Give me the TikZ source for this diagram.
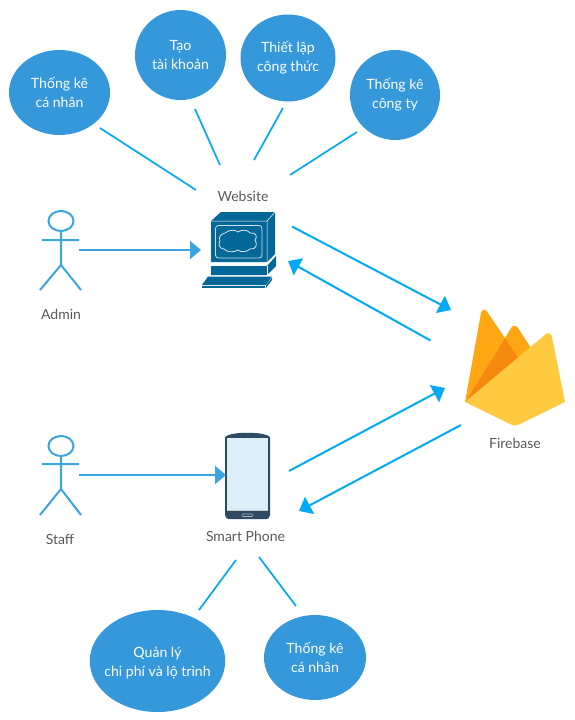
\documentclass[tikz,border=0pt]{standalone}
\usepackage{fontspec}
\setmainfont{Lato}
\usetikzlibrary{arrows.meta,shapes.geometric}
\definecolor{bub}{HTML}{3498DB}
\definecolor{act}{HTML}{3AA5DE}
\definecolor{con}{HTML}{03A9F4}
\definecolor{lab}{HTML}{595959}
\definecolor{cis}{HTML}{036897}
\definecolor{ph}{HTML}{2F4A63}
\definecolor{scr}{HTML}{DCEFF9}
\definecolor{fa}{HTML}{FFA712}
\definecolor{fb}{HTML}{F58A0E}
\definecolor{fc}{HTML}{FFCA3F}
\tikzset{
  x=1pt,y=-1pt,
  bubble/.style={ellipse,fill=bub,inner sep=0pt,align=center,text=white,font=\fontsize{14.1}{19}\selectfont},
  lbl/.style={text=lab,font=\fontsize{14}{16}\selectfont,inner sep=0pt},
  thinline/.style={draw=con,line width=1.7pt},
  flow/.style={draw=con,line width=2pt,-{Triangle[length=12pt,width=19pt]}},
  acflow/.style={draw=act,line width=2.2pt,-{Triangle[length=11pt,width=18pt]}},
  actor/.style={draw=act,line width=2pt,fill=none},
}
\begin{document}
\begin{tikzpicture}
\useasboundingbox (0,0) rectangle (575,720);
% bubbles
\node[bubble,minimum width=101pt,minimum height=85pt] (b1) at (59.5,92.5) {Thống kê\\cá nhân};
\node[bubble,minimum width=91pt,minimum height=90pt] (b2) at (180.5,55) {Tạo\\tài khoản};
\node[bubble,minimum width=95pt,minimum height=87pt] (b3) at (288,58) {Thiết lập\\công thức};
\node[bubble,minimum width=90pt,minimum height=90pt] (b4) at (395,95) {Thống kê\\công ty};
\node[bubble,inner xsep=-20pt,minimum width=135.5pt,minimum height=102pt] (b5) at (157.5,661) {\rule{0pt}{14pt}Quản lý\\chi phí và lộ trình};
\node[bubble,minimum width=102pt,minimum height=85pt] (b6) at (315,657.5) {Thống kê\\cá nhân};
% labels
\node[lbl] (lweb) at (243,196) {Website};
\node[lbl] (ladmin) at (61,314) {Admin};
\node[lbl] (lstaff) at (60,539) {Staff};
\node[lbl] (lphone) at (245.5,536) {Smart Phone};
\node[lbl] (lfire) at (515,443) {Firebase};
% actors
\draw[actor] (61,221) ellipse (12.5 and 10);
\draw[actor] (61,231) -- (61,265) (42,240) -- (79,240) (61,265) -- (40,290) (61,265) -- (81,290);
\draw[actor] (61,446) ellipse (12.5 and 10);
\draw[actor] (61,456) -- (61,489) (42,464) -- (79,464) (61,489) -- (40,515) (61,489) -- (81,515);
% computer
\fill[cis] (211,221) -- (221,212) -- (275,212) -- (275,254) -- (267,262) -- (211,262) -- cycle;
\draw[white,line width=.5pt] (211,221) -- (267,221) -- (275,212) (267,221) -- (267,262);
\fill[cis] (211,266) -- (267,266) -- (276,256) -- (276,266) -- (267,275) -- (211,275) -- cycle;
\draw[white,line width=.5pt] (267,266) -- (267,275);
\fill[cis] (208,276.5) -- (272,276.5) -- (266,285) -- (202,285) -- cycle;
\fill[cis] (202,285.7) -- (265,285.7) -- (265,288) -- (202,288) -- cycle;
\fill[cis] (266,285.5) -- (272,277.5) -- (272,280) -- (266,288) -- cycle;
\draw[white!80!cis,line width=.8pt,rounded corners=3pt] (215.5,225.5) rectangle (262,258);
\draw[white!85!cis,line width=.8pt] (225,233) .. controls (230,229) and (236,230) .. (238,232)
  .. controls (242,229) and (248,230) .. (250,233) .. controls (256,232) and (258,237) .. (255,240)
  .. controls (258,244) and (256,250) .. (250,249) .. controls (246,253) and (240,252) .. (238,250)
  .. controls (234,253) and (226,252) .. (224,249) .. controls (219,249) and (218,243) .. (220,241)
  .. controls (218,237) and (221,234) .. (225,233) -- cycle;
% phone
\fill[ph] (225,438) .. controls (225,431) and (270,431) .. (270,438) -- (270,515) .. controls (270,518) and (268,519) .. (266,519) -- (229,519) .. controls (227,519) and (225,518) .. (225,515) -- cycle;
\fill[scr] (227,438) rectangle (268,511);
\fill[white!70!ph] (227,510.3) rectangle (268,511);
\fill[teal!60!ph] (248,434.7) circle (1);
\draw[white!60!ph,line width=.6pt,rounded corners=1pt] (242,514) rectangle (253,516.5);
% firebase
\fill[fa] (465,402) -- (481,313) .. controls (482,308) and (486,309) .. (488,313) -- (505,338) -- cycle;
\fill[fa] (505,338) -- (511,328) .. controls (513,325) and (516,325) .. (518,328) -- (531,348) -- (517,360) -- cycle;
\fill[fb] (465,402) -- (505,338) -- (518,358) -- (516,365) -- cycle;
\fill[fc] (465,402) -- (546,334) .. controls (549,332) and (551,334) .. (552,337) -- (565,402) -- (520,424) .. controls (516,426) and (513,426) .. (510,424) -- cycle;
% connectors
\coordinate (p1a) at (100,128); \coordinate (p1b) at (196,190);
\coordinate (p2a) at (195,109); \coordinate (p2b) at (220,165);
\coordinate (p3a) at (283,108); \coordinate (p3b) at (254,160);
\coordinate (p4a) at (357,132); \coordinate (p4b) at (290,175);
\coordinate (p5a) at (236,560); \coordinate (p5b) at (199,610);
\coordinate (p6a) at (259,557); \coordinate (p6b) at (296,606);
\coordinate (a1a) at (79,250);  \coordinate (a1b) at (201,250);
\coordinate (a2a) at (79,475);  \coordinate (a2b) at (226,475);
\coordinate (f1a) at (292,226.5); \coordinate (f1b) at (451,310);
\coordinate (f2a) at (430.5,340.5); \coordinate (f2b) at (288,261);
\coordinate (f3a) at (289,471); \coordinate (f3b) at (445,388);
\coordinate (f4a) at (461,425); \coordinate (f4b) at (299,511);
\draw[thinline] (p1a) -- (p1b);
\draw[thinline] (p2a) -- (p2b);
\draw[thinline] (p3a) -- (p3b);
\draw[thinline] (p4a) -- (p4b);
\draw[thinline] (p5a) -- (p5b);
\draw[thinline] (p6a) -- (p6b);
\draw[acflow] (a1a) -- (a1b);
\draw[acflow] (a2a) -- (a2b);
\draw[flow] (f1a) -- (f1b);
\draw[flow] (f2a) -- (f2b);
\draw[flow] (f3a) -- (f3b);
\draw[flow] (f4a) -- (f4b);
\end{tikzpicture}
\end{document}
